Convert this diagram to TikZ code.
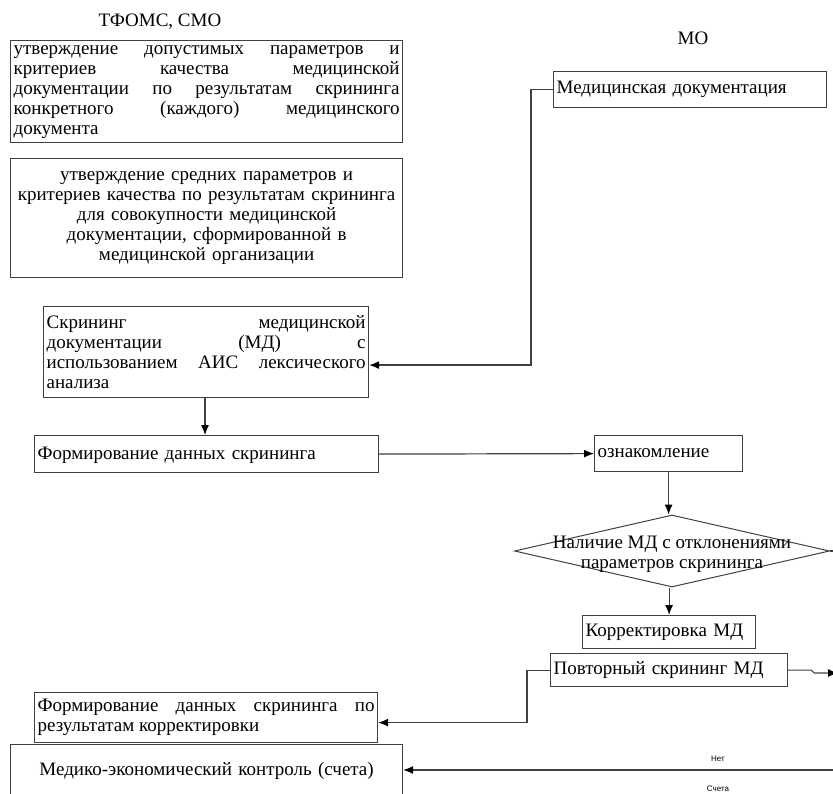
\documentclass[tikz,border=0pt]{standalone}
\usepackage{fontspec}
\setmainfont{Liberation Serif}
\newfontfamily\notefont{Liberation Sans}
\usetikzlibrary{arrows.meta, shapes.geometric}

\tikzset{
  box/.style={draw=black!75, line width=1.2pt, inner xsep=3pt, inner ysep=2pt,
    font=\fontsize{19}{20}\selectfont, anchor=north west},
  jbox/.style={box, align=justify},
  link/.style={draw=black!75, line width=1.2pt},
}

\begin{document}
\begin{tikzpicture}[x=1pt, y=-1pt, >={Latex[length=10pt,width=8pt,color=black]}]
		\useasboundingbox (0,0) rectangle (833,794);
		\hyphenpenalty=10000

		% Headers
		\node[font=\fontsize{19}{20}\selectfont] (tfoms) at (160,22) {ТФОМС, СМО};
		\node[font=\fontsize{19}{20}\selectfont] (mo) at (693,38) {МО};

		% Left column
		\node[jbox, text width=386pt, minimum height=102pt] (allowed) at (10,40)
			{утверждение допустимых параметров и\linebreak критериев качества медицинской\linebreak документации по результатам скрининга\linebreak конкретного (каждого) медицинского\linebreak документа};
		\node[box, align=center, text width=386pt, minimum height=119pt] (average) at (10,158)
			{утверждение средних параметров и\\ критериев качества по результатам скрининга\\ для совокупности медицинской\\ документации, сформированной в\\ медицинской организации};
		\node[jbox, text width=319pt, minimum height=91pt] (screen) at (43,306)
			{Скрининг медицинской\linebreak документации (МД) с\linebreak использованием АИС лексического\linebreak анализа};
		\node[box, align=left, text width=338pt, minimum height=37pt, text depth=1pt] (data) at (34,435)
			{Формирование данных скрининга};
		\node[jbox, text width=337pt, minimum height=50pt] (redata) at (34,692)
			{Формирование данных скрининга по\linebreak результатам корректировки};
		\node[box, align=center, text width=386pt, minimum height=52pt] (mek) at (10,744)
			{Медико-экономический контроль (счета)};

		% Right column
		\node[box, align=left, text width=267pt, minimum height=36pt] (meddoc) at (553,71)
			{Медицинская документация};
		\node[box, align=left, text width=142pt, minimum height=36pt, text depth=1pt] (review) at (594,435)
			{ознакомление};
		\node[draw=black!75, line width=1pt, shape=diamond, minimum width=315pt,
			minimum height=72pt, inner sep=0pt] (check) at (672,551) {};
		\node[align=center, inner sep=0pt, font=\fontsize{19}{20}\selectfont] (checktext) at ([yshift=-3pt]check)
			{Наличие МД с отклонениями\\ параметров скрининга};
		\node[box, align=left, text width=167pt, minimum height=33pt] (fix) at (582,615)
			{Корректировка МД};
		\node[box, align=left, text width=231pt, minimum height=33pt] (rescreen) at (550,653)
			{Повторный скрининг МД};

		% Free ends at the right edge
		\coordinate (outcheck) at (840,551);
		\coordinate (outre) at (838,673);
		\coordinate (inbill) at (840,770);

		% Connectors
		\draw[link,->] (meddoc.west) -- ++(-22,0) |- ([yshift=-13pt]screen.east);
		\draw[link,->] (screen.south -| 205,0) -- (data.north -| 205,0);
		\draw[link,->] (data.east) -- (review.west);
		\draw[link,->] (review.south) -- (review.south |- check.north);
		\draw[link,->] (check.south -| fix.north) -- (fix.north);
		\draw[link] (check.east) -- (outcheck);
		\draw[link,->] (rescreen.east) -- ++(23,0) -- ++(3,3) -- (outre);
		\draw[link,->] (rescreen.west) -- ++(-23,0) |- ([yshift=-5pt]redata.east);
		\draw[link,->] (inbill) -- (mek.east |- inbill);

		% Labels on the incoming line
		\node[font=\notefont\fontsize{8}{9}\selectfont] (no) at (718,759) {Нет};
		\node[font=\notefont\fontsize{8}{9}\selectfont] (bills) at (718,789) {Счета};
	\end{tikzpicture}
\end{document}
